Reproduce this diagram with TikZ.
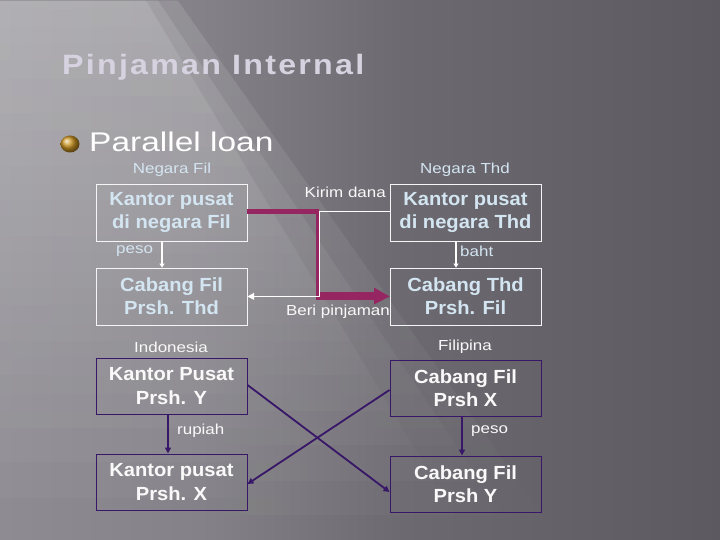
\documentclass[tikz,border=0pt]{standalone}
\usepackage{fontspec}
\setmainfont{Liberation Sans}
\newfontfamily\lblfont[FakeStretch=1.17]{Liberation Sans}
\newfontfamily\boxfont[FakeStretch=1.06]{Liberation Sans}
\newfontfamily\subfont[FakeStretch=1.24]{Liberation Sans}
\newfontfamily\titlefont[FakeStretch=1.15,LetterSpace=8]{Liberation Sans}
\usetikzlibrary{arrows.meta,fadings}
\definecolor{bga}{RGB}{142,140,146}
\definecolor{bgb}{RGB}{132,130,136}
\definecolor{bgc}{RGB}{108,106,112}
\definecolor{bgd}{RGB}{92,90,96}
\definecolor{titlec}{RGB}{214,210,224}
\definecolor{lblue}{RGB}{212,229,242}
\definecolor{magc}{RGB}{150,38,98}
\definecolor{purp}{RGB}{56,22,104}
\definecolor{goldc}{RGB}{205,150,35}
\pgfdeclarehorizontalshading{bgshade}{100bp}{color(0bp)=(bga); color(25bp)=(bga); color(39bp)=(bgb); color(53bp)=(bgc); color(75bp)=(bgd); color(100bp)=(bgd)}
\tikzfading[name=bandfade, top color=transparent!0, bottom color=transparent!100]
\tikzset{
  topbox/.style={draw=white!92!gray, line width=0.9pt, minimum width=151pt, minimum height=57pt, inner sep=0pt, align=center, text=lblue, font=\boxfont\bfseries\fontsize{19}{23.4}\selectfont},
  botbox/.style={draw=purp, line width=1pt, minimum width=151pt, minimum height=56pt, inner sep=0pt, align=center, text=white!95!gray, font=\boxfont\bfseries\fontsize{19}{23.4}\selectfont},
  lbl/.style={font=\lblfont\fontsize{14.5}{16}\selectfont, text=lblue, inner sep=0pt},
  wlbl/.style={font=\lblfont\fontsize{14.5}{16}\selectfont, text=white!95!gray, inner sep=0pt},
  warrow/.style={draw=white, line width=1.5pt, -{Triangle[width=5pt,length=4pt]}},
  parrow/.style={draw=purp, line width=1.8pt, -{Triangle[width=6pt,length=6pt]}},
  glow/.style={fill=white, fill opacity=0.12, path fading=bandfade},
}
\begin{document}
\begin{tikzpicture}[x=1pt,y=-1pt]
\useasboundingbox (0,0) rectangle (720,540);
\shade[shading=bgshade] (0,0) rectangle (720,540);
% soft diagonal light streaks
\fill[glow] (0,0) -- (178,0) -- (560,540) -- (0,540) -- cycle;
\fill[glow] (0,0) -- (158,0) -- (520,540) -- (0,540) -- cycle;
\fill[glow] (0,0) -- (146,0) -- (470,540) -- (0,540) -- cycle;
% title
\node[anchor=base west, inner sep=0pt, text=titlec, font=\titlefont\bfseries\fontsize{28}{32}\selectfont] (title) at (62,75) {Pinjaman Internal};
\shade[ball color=goldc] (70,144) ellipse (9.5 and 8.5);
\node[anchor=base west, inner sep=0pt, text=white, font=\subfont\fontsize{27}{32}\selectfont] (sub) at (89,152) {Parallel loan};
% top section
\node[lbl] (nf) at (172,170) {Negara Fil};
\node[lbl] (nt) at (465,170) {Negara Thd};
\node[topbox] (kpf) at (171.5,212.5) {Kantor pusat\\di negara Fil};
\node[topbox] (kpt) at (465.5,212.5) {Kantor pusat\\di negara Thd};
\node[topbox] (cf) at (171.5,296.5) {Cabang Fil\\Prsh. Thd};
\node[topbox] (ct) at (465.5,296.5) {Cabang Thd\\Prsh. Fil};
\node[lbl, anchor=west] (peso1) at (116,251) {peso};
\node[lbl, anchor=west] (baht) at (460,251) {baht};
\draw[warrow] (kpf.south -| 162,0) -- (cf.north -| 162,0);
\draw[warrow] (kpt.south -| 456,0) -- (ct.north -| 456,0);
\coordinate (m1) at (318,211.5);
\coordinate (m2) at (317,296);
\draw[magc, line width=5pt] (kpf.east |- m1) -- (m1);
\draw[magc, line width=3pt] (317,209) -- (m2);
\draw[magc, line width=8pt] (315.5,296) -- (376,296);
\fill[magc] (374,287.5) -- (ct.west) -- (374,304.5) -- cycle;
\draw[white, line width=1.4pt] (kpt.west |- m1) -- (319.7,211.5) -- (319.7,296.3) -- (253,296.3);
\fill[white] (cf.east) -- (254,292.8) -- (254,299.8) -- cycle;
\node[wlbl, anchor=east] (kirim) at (386,192) {Kirim dana};
\node[wlbl, anchor=east] (beri) at (390,312) {Beri pinjaman};
% bottom section
\node[wlbl] (indo) at (171,347) {Indonesia};
\node[wlbl] (fili) at (465,347) {Filipina};
\node[botbox] (kpy) at (171.5,386) {Kantor Pusat\\Prsh. Y};
\node[botbox] (kpx) at (171.5,482) {Kantor pusat\\Prsh. X};
\node[botbox] (cfx) at (465.5,388.5) {Cabang Fil\\Prsh X};
\node[botbox] (cfy) at (465.5,484) {Cabang Fil\\Prsh Y};
\node[wlbl, anchor=west] (rup) at (177,431) {rupiah};
\node[wlbl, anchor=west] (peso2) at (471,431) {peso};
\draw[parrow] (kpy.south -| 168,0) -- (kpx.north -| 168,0);
\draw[parrow] (cfx.south -| 462,0) -- (cfy.north -| 462,0);
\draw[parrow] (kpy.east |- 0,385) -- (cfy.west |- 0,492);
\draw[parrow] (cfx.west |- 0,390) -- (kpx.east |- 0,484);
\end{tikzpicture}
\end{document}
